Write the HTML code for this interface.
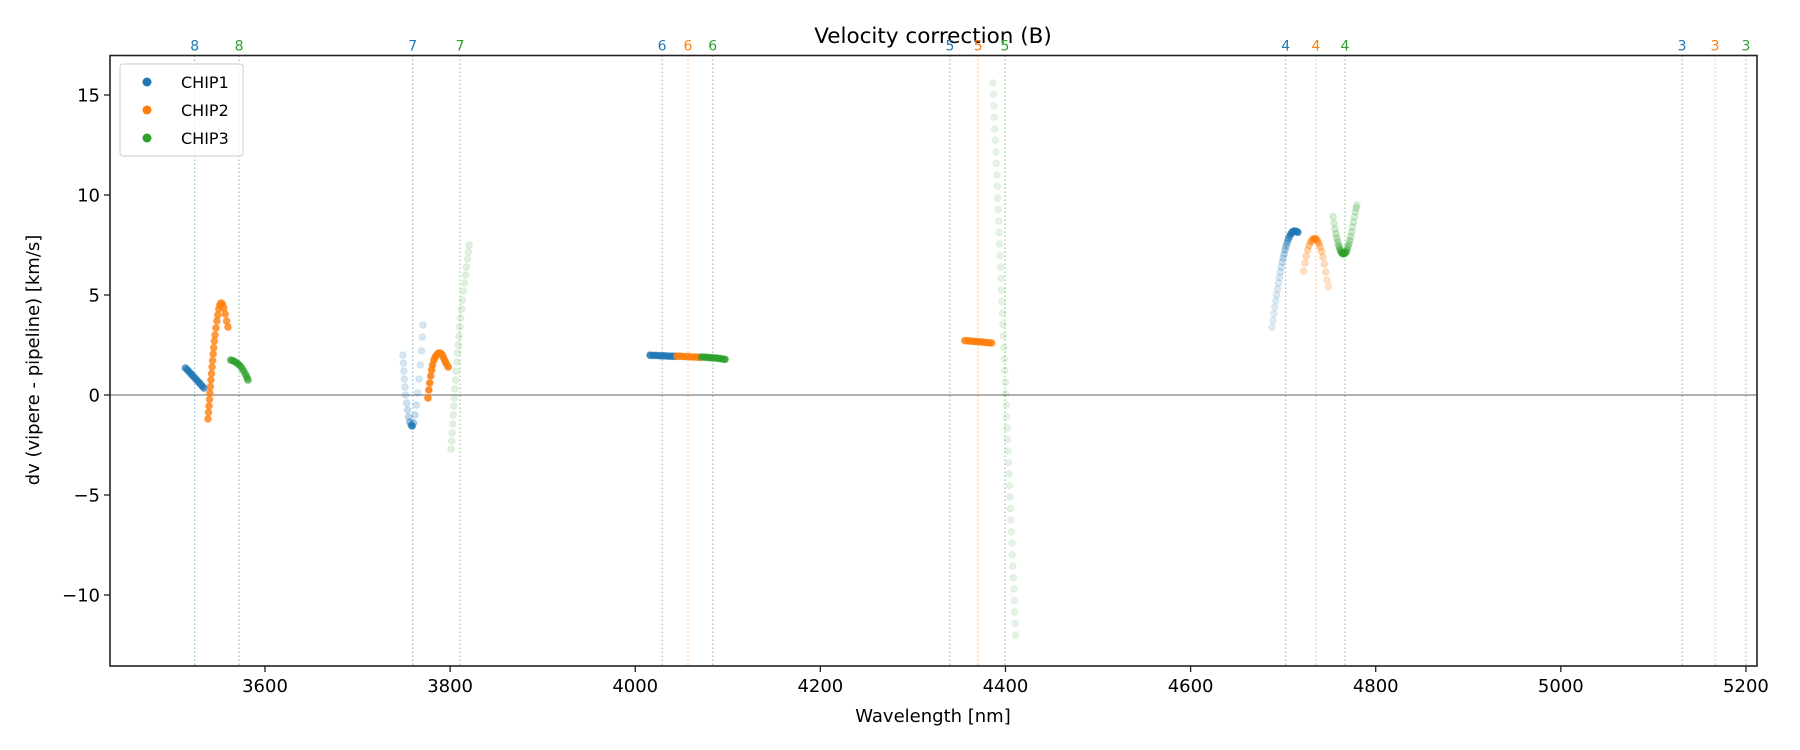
<!DOCTYPE html>
<html><head><meta charset="utf-8">
<style>
html,body{margin:0;padding:0;background:#fff;}
svg{display:block;font-family:"DejaVu Sans","Liberation Sans",sans-serif;}
</style></head>
<body>
<svg id="chart" width="1800" height="750" viewBox="0 0 1800 750" xmlns="http://www.w3.org/2000/svg">
  <text x="933" y="43" font-size="21.5" text-anchor="middle">Velocity correction (B)</text>
  <text x="933" y="722" font-size="18" text-anchor="middle">Wavelength [nm]</text>
  <text transform="translate(39,360) rotate(-90)" font-size="18" text-anchor="middle">dv (vipere - pipeline) [km/s]</text>
  <g id="grid-layer"></g>
  <g id="marks-layer"></g>
  <g id="axes-layer"></g>
</svg>
<script>
const xTicks = [3600,3800,4000,4200,4400,4600,4800,5000,5200];
const yTicks = [-10,-5,0,5,10,15];
const chipNames = ["CHIP1","CHIP2","CHIP3"];
const chipColors = ["#1f77b4","#ff7f0e","#2ca02c"];
const orderLabels = ["8","8","7","7","6","6","6","5","5","5","4","4","4","3","3","3"];
const orderChip = [0,2,0,2,0,1,2,0,1,2,0,1,2,0,1,2];
const orderWave = [3524,3572,3759.6,3810.7,4029,4057,4083.7,4340,4370.6,4399.5,4702.7,4735.5,4766.8,5131,5166.6,5200];

const b8w=[3514,3516,3518,3520,3522,3524,3526,3528,3530,3532,3534];
const b8v=[1.35,1.26,1.16,1.06,0.96,0.86,0.76,0.66,0.56,0.45,0.35];
const o8w=[3538.4,3539,3539.5,3540,3540.5,3541,3541.6,3542.2,3542.8,3543.4,3544,3544.6,3545.3,3546,3547,3548,3549,3550,3551.2,3552.5,3554,3555.5,3557,3558.5,3560];
const o8v=[-1.2,-0.87,-0.55,-0.22,0.1,0.42,0.75,1.07,1.4,1.72,2.05,2.37,2.7,3.0,3.35,3.7,4.0,4.3,4.5,4.6,4.55,4.35,4.05,3.7,3.4];
const g8w=[3563,3565,3567,3569,3571,3573,3575,3577,3579,3580.5,3581.6];
const g8v=[1.75,1.72,1.68,1.62,1.55,1.47,1.35,1.2,1.03,0.88,0.75];
const b7w=[3749,3749.5,3750,3750.6,3751.2,3752,3753,3754,3755.2,3756.5,3758,3759,3760.5,3762,3763.5,3765,3766.5,3767.8,3769,3770,3770.7];
const b7v=[2.0,1.6,1.2,0.8,0.4,0.0,-0.4,-0.75,-1.1,-1.35,-1.5,-1.55,-1.4,-1.0,-0.5,0.1,0.8,1.5,2.2,2.9,3.5];
const b7a=[0.18,0.18,0.18,0.18,0.2,0.2,0.22,0.25,0.3,0.4,0.55,0.8,0.4,0.25,0.2,0.18,0.18,0.18,0.18,0.18,0.18];
const o7w=[3776,3777,3778,3779,3780,3781,3782.5,3784,3785.5,3787,3788.5,3790,3791.5,3793,3794.5,3796,3798];
const o7v=[-0.15,0.25,0.6,0.95,1.25,1.5,1.75,1.9,2.0,2.08,2.1,2.08,2.0,1.85,1.7,1.55,1.4];
const g7w=[3801,3801.6,3802.2,3802.8,3803.4,3804,3804.6,3805.2,3805.9,3806.6,3807.3,3808,3808.8,3809.6,3810.5,3811.4,3812.4,3813.4,3814.4,3815.5,3816.6,3817.7,3818.8,3819.8,3820.7];
const g7v=[-2.7,-2.3,-1.9,-1.45,-1.0,-0.55,-0.15,0.3,0.75,1.2,1.65,2.1,2.5,2.95,3.4,3.85,4.3,4.75,5.2,5.6,6.0,6.4,6.8,7.15,7.5];
const b6w=[4016,4019,4022,4025,4028,4031,4034,4037,4040,4043];
const b6v=[1.99,1.98,1.98,1.97,1.96,1.96,1.95,1.94,1.94,1.93];
const o6w=[4045,4048,4050.5,4053,4056,4059,4062,4065,4067.5,4070];
const o6v=[1.94,1.94,1.93,1.92,1.92,1.91,1.9,1.9,1.89,1.88];
const g6w=[4072,4075,4078,4080.5,4083,4086,4089,4092,4094.5,4097];
const g6v=[1.9,1.89,1.88,1.87,1.86,1.85,1.84,1.82,1.8,1.78];
const o5w=[4356,4358.6,4361.3,4364,4366.5,4369,4371.5,4374.3,4377,4379.6,4382.3,4385];
const o5v=[2.72,2.71,2.7,2.69,2.68,2.67,2.66,2.65,2.64,2.62,2.61,2.6];
const g5w=[4386.5,4387.0,4387.5,4388.0,4388.5,4389.1,4389.6,4390.1,4390.6,4391.1,4391.6,4392.1,4392.6,4393.1,4393.6,4394.2,4394.7,4395.2,4395.7,4396.2,4396.7,4397.2,4397.7,4398.2,4398.7,4399.3,4399.8,4400.3,4400.8,4401.3,4401.8,4402.3,4402.8,4403.3,4403.8,4404.4,4404.9,4405.4,4405.9,4406.4,4406.9,4407.4,4407.9,4408.4,4408.9,4409.5,4410.0,4410.5,4411.0];
const g5v=[15.6,15.03,14.45,13.88,13.3,12.73,12.15,11.58,11.0,10.43,9.85,9.28,8.7,8.13,7.55,6.98,6.4,5.83,5.25,4.68,4.1,3.53,2.95,2.38,1.8,1.23,0.65,0.08,-0.5,-1.08,-1.65,-2.23,-2.8,-3.38,-3.95,-4.53,-5.1,-5.68,-6.25,-6.83,-7.4,-7.98,-8.55,-9.13,-9.7,-10.28,-10.85,-11.43,-12.0];
const b4w=[4688,4689,4690,4691,4692,4693,4694,4695,4696,4697,4698,4699,4700,4701,4702,4703,4704,4705,4706,4707,4708,4709,4710,4711,4712,4713,4714,4715,4716];
const b4v=[3.38,3.72,4.06,4.4,4.72,5.0,5.3,5.6,5.88,6.15,6.4,6.65,6.85,7.05,7.25,7.42,7.58,7.72,7.84,7.94,8.03,8.1,8.15,8.18,8.19,8.19,8.18,8.16,8.13];
const b4a=[0.15,0.15,0.15,0.15,0.16,0.16,0.17,0.17,0.18,0.19,0.2,0.22,0.24,0.27,0.3,0.33,0.37,0.4,0.45,0.5,0.55,0.6,0.65,0.7,0.75,0.75,0.7,0.7,0.65];
const o4w=[4722,4723.5,4725,4726.5,4728,4729.5,4731,4732.5,4734,4735.5,4737,4738.5,4740,4741.5,4743,4744.5,4746,4747.5,4748.8];
const o4v=[6.2,6.6,6.95,7.25,7.47,7.63,7.73,7.8,7.82,7.8,7.72,7.58,7.4,7.18,6.9,6.55,6.15,5.75,5.42];
const o4a=[0.25,0.27,0.3,0.33,0.37,0.42,0.5,0.58,0.65,0.65,0.55,0.45,0.38,0.33,0.3,0.27,0.25,0.23,0.22];
const g4w=[4754,4755,4756,4757,4758,4759,4760,4761,4762,4763,4764,4765,4766,4767,4768,4769,4770,4771,4772,4773,4774,4775,4776,4777,4778,4779,4779.5];
const g4v=[8.92,8.6,8.3,8.05,7.85,7.65,7.48,7.33,7.22,7.13,7.08,7.06,7.08,7.1,7.15,7.25,7.4,7.55,7.72,7.92,8.15,8.4,8.65,8.9,9.15,9.35,9.5];
const g4a=[0.2,0.2,0.22,0.24,0.27,0.3,0.35,0.42,0.5,0.6,0.7,0.75,0.7,0.6,0.5,0.42,0.35,0.3,0.27,0.24,0.22,0.2,0.2,0.2,0.2,0.2,0.2];

const segments = [
  {name:"chip1-order8",chip:0,w:b8w,v:b8v,a:0.75},
  {name:"chip2-order8",chip:1,w:o8w,v:o8v,a:0.8},
  {name:"chip3-order8",chip:2,w:g8w,v:g8v,a:0.7},
  {name:"chip1-order7",chip:0,w:b7w,v:b7v,a:b7a},
  {name:"chip2-order7",chip:1,w:o7w,v:o7v,a:0.9},
  {name:"chip3-order7",chip:2,w:g7w,v:g7v,a:0.15},
  {name:"chip1-order6",chip:0,w:b6w,v:b6v,a:0.85},
  {name:"chip2-order6",chip:1,w:o6w,v:o6v,a:0.85},
  {name:"chip3-order6",chip:2,w:g6w,v:g6v,a:0.85},
  {name:"chip2-order5",chip:1,w:o5w,v:o5v,a:0.85},
  {name:"chip3-order5",chip:2,w:g5w,v:g5v,a:0.12},
  {name:"chip1-order4",chip:0,w:b4w,v:b4v,a:b4a},
  {name:"chip2-order4",chip:1,w:o4w,v:o4v,a:o4a},
  {name:"chip3-order4",chip:2,w:g4w,v:g4v,a:g4a}
];

const L=110,R=1757,T=55.5,B=666;
function xs(w){return 265+(w-3600)*0.9256;}
function ys(v){return 395-v*20;}
const NS="http://www.w3.org/2000/svg";
function mk(tag,parent,attrs){const e=document.createElementNS(NS,tag);for(const k in attrs)e.setAttribute(k,attrs[k]);parent.appendChild(e);return e;}
const grid=document.getElementById('grid-layer');
const marks=document.getElementById('marks-layer');
const axes=document.getElementById('axes-layer');

const zl=mk('line',grid,{x1:L,x2:R,y1:ys(0),y2:ys(0),stroke:'#808080','stroke-width':1.2});



for(let i=0;i<orderWave.length;i++){
  const x=xs(orderWave[i]);const c=chipColors[orderChip[i]];
  const ln=mk('line',grid,{x1:x,x2:x,y1:T,y2:B,stroke:c,'stroke-width':1.2,'stroke-dasharray':'1.5,2.5','stroke-opacity':0.5});
  
  
  const t=mk('text',grid,{x:x,y:T-5,'font-size':14,fill:c,'text-anchor':'middle'});
  t.textContent=orderLabels[i];
  
  
}

segments.forEach(s=>{
  const g=mk('g',marks,{});
  
  
  const c=chipColors[s.chip];
  for(let i=0;i<s.w.length;i++){
    const a=Array.isArray(s.a)?s.a[i]:s.a;
    const p=mk('circle',g,{cx:xs(s.w[i]),cy:ys(s.v[i]),r:3.4,fill:c,'fill-opacity':a,stroke:c,'stroke-opacity':a*0.6,'stroke-width':1});
    
    
  }
});

const fr=mk('rect',axes,{x:L,y:T,width:R-L,height:B-T,fill:'none',stroke:'#222','stroke-width':1.6});


xTicks.forEach(t=>{
  const x=xs(t);
  const tk=mk('line',axes,{x1:x,x2:x,y1:B,y2:B+6,stroke:'#222','stroke-width':1.3});
  
  
  const lb=mk('text',axes,{x:x,y:B+26,'font-size':18,'text-anchor':'middle'});
  lb.textContent=t;
  
  
});
yTicks.forEach(t=>{
  const y=ys(t);
  const tk=mk('line',axes,{x1:L-6,x2:L,y1:y,y2:y,stroke:'#222','stroke-width':1.3});
  
  
  const lb=mk('text',axes,{x:L-10,y:y+6.5,'font-size':18,'text-anchor':'end'});
  lb.textContent=t<0?'\u2212'+Math.abs(t):String(t);
  
  
});

const lg=mk('g',axes,{});


mk('rect',lg,{x:120,y:64,width:123,height:92,rx:3,fill:'#fff','fill-opacity':0.8,stroke:'#ccc','stroke-width':1});
chipNames.forEach((n,i)=>{
  const y=82+i*28;
  const e=mk('g',lg,{});
  
  
  mk('circle',e,{cx:147,cy:y,r:4.5,fill:chipColors[i]});
  const t=mk('text',e,{x:181,y:y+6,'font-size':16});
  t.textContent=n;
});
</script>
</body></html>
